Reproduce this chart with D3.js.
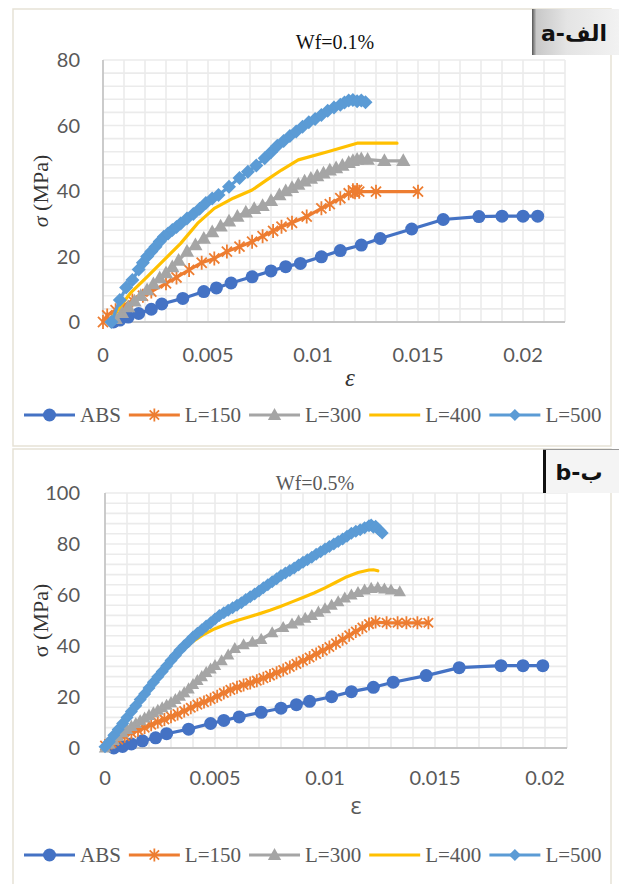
<!DOCTYPE html>
<html>
<head>
<meta charset="utf-8">
<script src="https://cdn.jsdelivr.net/npm/d3@7"></script>
<style>
  body { margin: 0; background: #fff; }
  svg { display: block; }
</style>
</head>
<body>
<script>
// series names / colours / ticks
const seriesNames = ["ABS", "L=150", "L=300", "L=400", "L=500"];
const seriesColors = ["#4472c4", "#ed7d31", "#a5a5a5", "#ffc000", "#5b9bd5"];
const xTickValues = [0, 0.005, 0.01, 0.015, 0.02];
const yTicksA = [0, 20, 40, 60, 80];
const yTicksB = [0, 20, 40, 60, 80, 100];

// panel a : Wf=0.1%   ([strain, stress MPa])
const absA = [[0.0005,0],[0.0008,0.6],[0.0012,1.5],[0.0017,2.6],[0.0023,3.9],[0.0028,5.5],[0.0038,7.2],[0.0048,9.3],[0.0054,10.4],[0.0061,11.9],[0.0071,13.8],[0.0080,15.6],[0.0087,16.9],[0.0094,17.9],[0.0104,19.9],[0.0113,21.8],[0.0123,23.5],[0.0132,25.5],[0.0147,28.4],[0.0162,31.3],[0.0179,32.2],[0.0190,32.3],[0.0200,32.3],[0.0207,32.3]];
const l150A = [[0,0],[0.0002,2.0],[0.0006,3.6],[0.0010,5.0],[0.0014,6.6],[0.0019,8.0],[0.0023,9.3],[0.0030,11.8],[0.0035,13.6],[0.0041,15.9],[0.0047,18.1],[0.0053,19.4],[0.0059,21.5],[0.0065,23.0],[0.0071,24.5],[0.0076,26.2],[0.0081,27.8],[0.0085,29.1],[0.0090,30.3],[0.0097,32.2],[0.0104,34.7],[0.0108,36.0],[0.0113,37.8],[0.0117,39.3],[0.0119,40.2],[0.0120,39.6],[0.0121,40.3],[0.0122,39.8],[0.0130,39.8],[0.0150,39.8]];
const l300A = [[0.0006,1.0],[0.0009,2.8],[0.0012,4.6],[0.0015,6.3],[0.0018,8.0],[0.0021,9.8],[0.0024,11.6],[0.0027,13.4],[0.0030,15.0],[0.0033,16.8],[0.0036,18.8],[0.0040,21.5],[0.0044,23.5],[0.0048,25.5],[0.0052,27.5],[0.0056,29.2],[0.0060,30.8],[0.0064,32.2],[0.0068,33.5],[0.0072,34.6],[0.0076,35.5],[0.0080,37.0],[0.0084,38.8],[0.0087,40.0],[0.0090,41.0],[0.0093,42.0],[0.0096,43.0],[0.0099,43.8],[0.0102,44.6],[0.0105,45.4],[0.0108,46.3],[0.0111,47.0],[0.0114,47.8],[0.0117,48.6],[0.0119,49.2],[0.0121,49.6],[0.0123,49.8],[0.0126,49.6],[0.0134,49.2],[0.0143,49.2]];
const l400A = [[0.0003,0.5],[0.0007,3.7],[0.0013,8.8],[0.0021,13.8],[0.0029,18.9],[0.0037,24.0],[0.0045,30.1],[0.0053,34.7],[0.0062,37.8],[0.0071,40.3],[0.0078,43.4],[0.0085,46.4],[0.0093,49.5],[0.0107,52.0],[0.0121,54.6],[0.0140,54.6]];
const l500A = [[0.0004,0],[0.0008,6.7],[0.0011,10.5],[0.0014,12.8],[0.0017,16.0],[0.0019,18.1],[0.0021,20.0],[0.0023,21.5],[0.0025,23.0],[0.0027,24.6],[0.0029,26.0],[0.0031,27.0],[0.0033,28.1],[0.0035,29.0],[0.0037,30.1],[0.0040,31.6],[0.0043,33.0],[0.0046,34.6],[0.0049,36.3],[0.0052,37.7],[0.0055,38.8],[0.0060,41.3],[0.0065,44.0],[0.0069,45.9],[0.0073,47.8],[0.0077,50.0],[0.0080,51.8],[0.0083,53.8],[0.0086,55.3],[0.0089,56.8],[0.0092,58.2],[0.0095,59.6],[0.0098,61.0],[0.0101,62.0],[0.0104,63.2],[0.0107,64.5],[0.0110,65.5],[0.0113,66.3],[0.0115,67.0],[0.0117,67.6],[0.0119,67.8],[0.0121,67.4],[0.0123,67.6],[0.0125,67.1]];

// panel b : Wf=0.5%
const absB = [[0.0004,0],[0.0008,0.6],[0.0012,1.6],[0.0017,2.8],[0.0023,4.0],[0.0028,5.6],[0.0038,7.4],[0.0048,9.6],[0.0054,10.8],[0.0061,12.2],[0.0071,14.0],[0.0080,15.6],[0.0087,17.0],[0.0093,18.3],[0.0103,20.1],[0.0112,22.1],[0.0122,23.8],[0.0131,25.8],[0.0146,28.4],[0.0161,31.5],[0.0180,32.3],[0.0190,32.3],[0.0199,32.3]];
const l150B = [[0,1.0],[0.0003,2.0],[0.0006,3.3],[0.0009,4.6],[0.0012,6.0],[0.0015,7.0],[0.0018,8.0],[0.0021,9.1],[0.0024,10.2],[0.0027,11.2],[0.0030,12.3],[0.0033,13.3],[0.0036,14.5],[0.0039,15.8],[0.0042,17.0],[0.0045,18.0],[0.0048,19.1],[0.0051,20.3],[0.0054,21.6],[0.0057,22.8],[0.0060,23.8],[0.0063,24.7],[0.0066,25.5],[0.0069,26.4],[0.0072,27.4],[0.0075,28.4],[0.0078,29.5],[0.0081,30.6],[0.0084,31.8],[0.0087,33.0],[0.0090,34.2],[0.0093,35.5],[0.0096,36.9],[0.0099,38.2],[0.0102,39.6],[0.0105,41.1],[0.0108,42.6],[0.0111,44.2],[0.0114,45.7],[0.0117,47.2],[0.0120,48.6],[0.0123,49.4],[0.0128,49.1],[0.0133,49.1],[0.0137,49.1],[0.0142,49.1],[0.0147,49.1]];
const l300B = [[0,0],[0.0002,1.5],[0.0004,3.0],[0.0006,4.5],[0.0008,6.0],[0.0010,7.3],[0.0012,8.5],[0.0014,9.6],[0.0016,10.7],[0.0018,11.8],[0.0020,12.8],[0.0022,13.8],[0.0024,14.8],[0.0026,15.8],[0.0028,16.8],[0.0030,17.8],[0.0032,19.0],[0.0034,20.3],[0.0036,21.7],[0.0038,23.2],[0.0040,24.9],[0.0042,26.5],[0.0044,28.0],[0.0046,29.6],[0.0048,31.0],[0.0050,32.4],[0.0053,34.2],[0.0056,36.5],[0.0059,39.0],[0.0063,40.5],[0.0067,41.5],[0.0071,42.6],[0.0076,45.2],[0.0081,47.3],[0.0085,48.6],[0.0088,49.8],[0.0091,50.9],[0.0094,52.0],[0.0097,53.3],[0.0100,54.6],[0.0103,56.0],[0.0106,57.4],[0.0109,58.8],[0.0112,60.0],[0.0115,61.0],[0.0118,62.0],[0.0121,62.6],[0.0124,62.8],[0.0127,62.4],[0.0130,62.0],[0.0134,61.3]];
const l400B = [[0,0],[0.0005,5.5],[0.0010,11.5],[0.0015,17.5],[0.0020,23.5],[0.0025,28.5],[0.0030,33.5],[0.0035,38.0],[0.0040,41.8],[0.0045,44.6],[0.0050,46.8],[0.0055,48.5],[0.0060,50.0],[0.0065,51.3],[0.0070,52.6],[0.0075,54.0],[0.0080,55.6],[0.0085,57.3],[0.0090,59.0],[0.0095,60.8],[0.0100,62.8],[0.0105,65.0],[0.0110,67.2],[0.0115,68.8],[0.0120,69.8],[0.0122,69.9],[0.0124,69.5]];
const l500B = [[0,0.5],[0.0002,2.5],[0.0004,5.0],[0.0006,7.3],[0.0008,9.6],[0.0010,12.0],[0.0012,14.3],[0.0014,16.6],[0.0016,19.0],[0.0018,21.2],[0.0020,23.5],[0.0022,25.8],[0.0024,27.9],[0.0026,30.0],[0.0028,32.2],[0.0030,34.3],[0.0032,36.3],[0.0034,38.3],[0.0036,40.1],[0.0038,41.8],[0.0040,43.5],[0.0042,45.0],[0.0044,46.4],[0.0046,47.8],[0.0048,49.1],[0.0050,50.6],[0.0052,52.0],[0.0054,53.0],[0.0056,54.0],[0.0058,55.0],[0.0060,56.0],[0.0062,57.0],[0.0064,58.2],[0.0066,59.3],[0.0068,60.4],[0.0070,61.6],[0.0072,62.8],[0.0074,64.0],[0.0076,65.2],[0.0078,66.4],[0.0080,67.6],[0.0082,68.6],[0.0084,69.6],[0.0086,70.6],[0.0088,71.8],[0.0090,72.8],[0.0092,73.8],[0.0094,74.8],[0.0096,76.0],[0.0098,77.0],[0.0100,78.0],[0.0102,79.0],[0.0104,80.0],[0.0106,81.0],[0.0108,82.0],[0.0110,83.0],[0.0112,84.2],[0.0114,85.0],[0.0116,85.6],[0.0118,86.4],[0.0120,87.2],[0.0121,87.5],[0.0122,86.6],[0.0123,87.0],[0.0124,86.0],[0.0125,85.2],[0.0126,84.3]];

const W = 619, H = 884;
const svg = d3.select("body").append("svg").attr("width", W).attr("height", H);
const defs = svg.append("defs");

const grad = defs.append("linearGradient").attr("id", "boxGrad")
  .attr("x1", "0%").attr("x2", "100%").attr("y1", "0%").attr("y2", "0%");
grad.append("stop").attr("offset", "0%").attr("stop-color", "#555");
grad.append("stop").attr("offset", "5%").attr("stop-color", "#c8c8c8");
grad.append("stop").attr("offset", "40%").attr("stop-color", "#e4e4e4");
grad.append("stop").attr("offset", "100%").attr("stop-color", "#f2f2f2");

// ABS, L=150, L=300, L=400 (plain line), L=500
const markerTypes = ["circle", "star", "triangle", "none", "diamond"];

// draw one marker
function drawMarker(g, type, x, y, color, s) {
  if (type === "circle") {
    g.append("circle").attr("cx", x).attr("cy", y).attr("r", s).attr("fill", color);
  } else if (type === "star") {
    const d = s * 0.72;
    g.append("path")
      .attr("d", `M${x},${y - s}V${y + s}M${x - d},${y - d}L${x + d},${y + d}M${x - d},${y + d}L${x + d},${y - d}`)
      .attr("stroke", color).attr("stroke-width", 1.8).attr("fill", "none");
  } else if (type === "triangle") {
    g.append("path")
      .attr("d", `M${x},${y - s}L${x + s * 0.95},${y + s * 0.7}L${x - s * 0.95},${y + s * 0.7}Z`)
      .attr("fill", color);
  } else if (type === "diamond") {
    g.append("path")
      .attr("d", `M${x},${y - s}L${x + s},${y}L${x},${y + s}L${x - s},${y}Z`)
      .attr("fill", color);
  }
}

function drawPanel(cfg) {
  const g = svg.append("g");

  // panel frame
  g.append("rect")
    .attr("x", cfg.frame[0]).attr("y", cfg.frame[1])
    .attr("width", cfg.frame[2]).attr("height", cfg.frame[3])
    .attr("fill", "#fff").attr("stroke", "#e6e2d6").attr("stroke-width", 1.5);

  const x = d3.scaleLinear().domain([0, cfg.xMax]).range([cfg.plot.left, cfg.plot.right]);
  const y = d3.scaleLinear().domain([0, cfg.yMax]).range([cfg.plot.bottom, cfg.plot.top]);

  // grid (every 0.001 and every 4 MPa)
  const grid = g.append("g").attr("stroke", "#ebebeb").attr("stroke-width", 1.6);
  grid.selectAll("line.v")
    .data(d3.range(1, Math.round(cfg.xMax / 0.001) + 1))
    .join("line")
    .attr("x1", (i) => x(i * 0.001)).attr("x2", (i) => x(i * 0.001))
    .attr("y1", y(0)).attr("y2", y(cfg.yMax));
  grid.selectAll("line.h")
    .data(d3.range(1, cfg.yMax / 4 + 1))
    .join("line")
    .attr("x1", x(0)).attr("x2", x(cfg.xMax))
    .attr("y1", (i) => y(i * 4)).attr("y2", (i) => y(i * 4));

  // axis lines
  g.append("line").attr("x1", x(0)).attr("x2", x(0)).attr("y1", y(0)).attr("y2", y(cfg.yMax))
    .attr("stroke", "#c6c6c6").attr("stroke-width", 1.8);
  g.append("line").attr("x1", x(0)).attr("x2", x(cfg.xMax)).attr("y1", y(0)).attr("y2", y(0))
    .attr("stroke", "#c6c6c6").attr("stroke-width", 1.8);

  // tick labels
  g.selectAll("text.xt")
    .data(xTickValues)
    .join("text")
    .attr("x", (d) => x(d)).attr("y", cfg.xTickY)
    .attr("text-anchor", "middle")
    .attr("font-family", "Lato, 'Open Sans', sans-serif").attr("font-size", 20)
    .attr("fill", "#595959")
    .text((d) => d3.format("~g")(d));
  g.selectAll("text.yt")
    .data(cfg.yTicks)
    .join("text")
    .attr("x", 80).attr("y", (d) => y(d)).attr("dy", "0.36em")
    .attr("text-anchor", "end")
    .attr("font-family", "Lato, 'Open Sans', sans-serif").attr("font-size", 20)
    .attr("fill", "#595959")
    .text((d) => d);

  // title
  g.append("text")
    .attr("x", cfg.titleX).attr("y", cfg.titleY)
    .attr("text-anchor", "middle")
    .attr("font-family", "'Liberation Serif', 'Times New Roman', serif").attr("font-size", 20)
    .attr("fill", cfg.titleColor)
    .text(cfg.title);

  // axis titles
  const yt = g.append("text")
    .attr("transform", `translate(${cfg.yTitleX},${(cfg.plot.top + cfg.plot.bottom) / 2}) rotate(-90)`)
    .attr("text-anchor", "middle")
    .attr("font-family", "'Liberation Serif', 'Times New Roman', serif").attr("font-size", 22)
    .attr("fill", "#333");
  yt.append("tspan").attr("font-style", cfg.sigmaItalic ? "italic" : "normal").text("σ");
  yt.append("tspan").text(" (MPa)");

  g.append("text")
    .attr("x", cfg.epsX).attr("y", cfg.epsY)
    .attr("text-anchor", "middle")
    .attr("font-family", cfg.epsItalic ? "'Liberation Serif', serif" : "'Open Sans', sans-serif")
    .attr("font-style", cfg.epsItalic ? "italic" : "normal")
    .attr("font-size", cfg.epsItalic ? 25 : 23)
    .attr("fill", cfg.epsItalic ? "#333" : "#595959")
    .text("ε");

  // series
  const line = d3.line().x((d) => x(d[0])).y((d) => y(d[1]));
  cfg.series.forEach((data, i) => {
    g.append("path").datum(data)
      .attr("d", line)
      .attr("fill", "none")
      .attr("stroke", seriesColors[i])
      .attr("stroke-width", 3.2)
      .attr("stroke-linejoin", "round")
      .attr("stroke-linecap", "round");
    const mg = g.append("g");
    data.forEach((d) => drawMarker(mg, markerTypes[i], x(d[0]), y(d[1]), seriesColors[i], cfg.markerSize[i]));
  });

  // legend
  const lg = g.append("g");
  let cx = 24;
  seriesNames.forEach((name, i) => {
    lg.append("line")
      .attr("x1", cx).attr("x2", cx + 51)
      .attr("y1", cfg.legendY).attr("y2", cfg.legendY)
      .attr("stroke", seriesColors[i]).attr("stroke-width", 3);
    drawMarker(lg, markerTypes[i], cx + 25.5, cfg.legendY, seriesColors[i], [6.5, 6.5, 7, 0, 6][i]);
    const t = lg.append("text")
      .attr("x", cx + 56).attr("y", cfg.legendY + 7)
      .attr("font-family", "'Liberation Serif', 'Times New Roman', serif").attr("font-size", 21)
      .attr("fill", "#595959")
      .text(name);
    cx += 56 + t.node().getComputedTextLength() + 8;
  });

  // corner label box
  const b = cfg.box;
  g.append("rect").attr("x", b.x).attr("y", b.y).attr("width", b.w).attr("height", b.h)
    .attr("fill", b.fill);
  if (b.leftBar) {
    g.append("rect").attr("x", b.x).attr("y", b.y).attr("width", 3).attr("height", b.h).attr("fill", "#111");
    g.append("line").attr("x1", b.x).attr("x2", b.x + b.w).attr("y1", b.y + 0.5).attr("y2", b.y + 0.5)
      .attr("stroke", "#999").attr("stroke-width", 1);
  }
  g.append("text")
    .attr("x", b.tx).attr("y", b.ty)
    .attr("text-anchor", "middle")
    .attr("font-family", "'DejaVu Sans', sans-serif").attr("font-weight", "bold").attr("font-size", 22)
    .attr("fill", "#111")
    .text(b.text);
}

drawPanel({
  frame: [13, 9, 598, 437],
  plot: { left: 103, right: 565, top: 60, bottom: 322 },
  xMax: 0.022, yMax: 80, yTicks: yTicksA,
  xTickY: 362,
  title: "Wf=0.1%", titleX: 335, titleY: 49, titleColor: "#111",
  yTitleX: 48, sigmaItalic: true,
  epsX: 350, epsY: 386, epsItalic: true,
  legendY: 415,
  series: [absA, l150A, l300A, l400A, l500A],
  markerSize: [6.5, 7, 7.5, 0, 7],
  box: { x: 532, y: 9, w: 87, h: 46, fill: "url(#boxGrad)", leftBar: false, text: "a-الف", tx: 574, ty: 41 }
});

drawPanel({
  frame: [13, 449, 598, 450],
  plot: { left: 105, right: 567, top: 493, bottom: 748 },
  xMax: 0.021, yMax: 100, yTicks: yTicksB,
  xTickY: 785,
  title: "Wf=0.5%", titleX: 315, titleY: 490, titleColor: "#595959",
  yTitleX: 48, sigmaItalic: false,
  epsX: 356, epsY: 814, epsItalic: false,
  legendY: 855,
  series: [absB, l150B, l300B, l400B, l500B],
  markerSize: [6.5, 6.5, 6.5, 0, 6.5],
  box: { x: 543, y: 449, w: 76, h: 44, fill: "#f4f4f4", leftBar: true, text: "b-ب", tx: 579, ty: 480 }
});
</script>
</body>
</html>
